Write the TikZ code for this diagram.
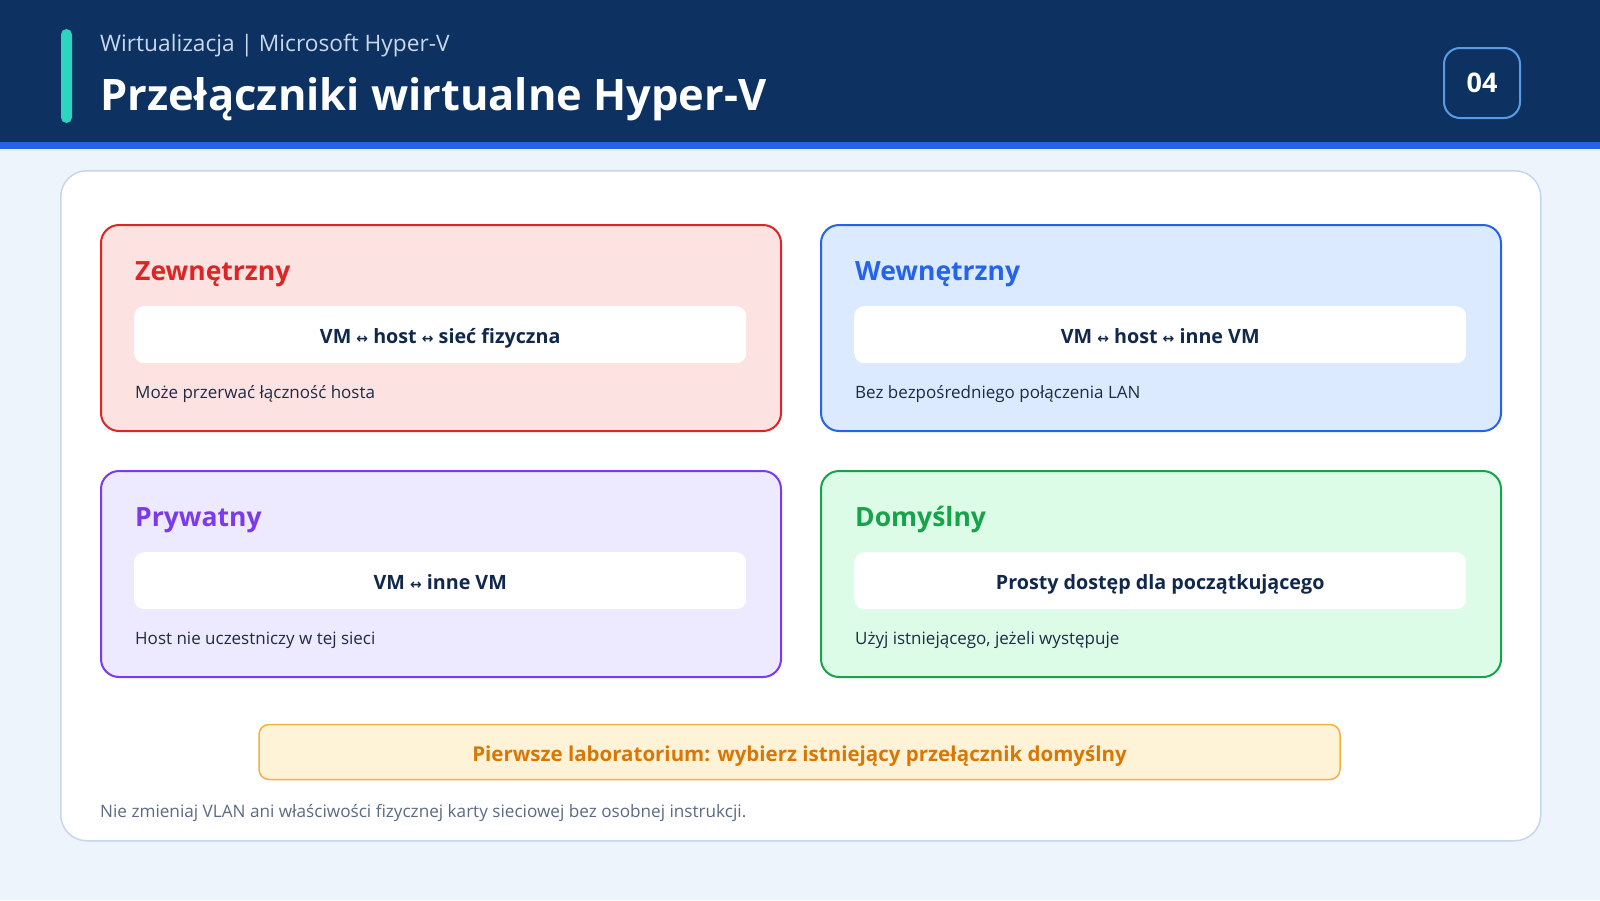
\documentclass[tikz,border=0pt]{standalone}
\usepackage{fontspec}
\setmainfont{Open Sans}
\newfontfamily\symfont{DejaVu Sans}
\newcommand{\lr}{{\symfont\fontsize{14}{16}\selectfont ↔}}
\definecolor{bgc}{HTML}{EEF4FC}
\definecolor{navy}{HTML}{0D3160}
\definecolor{stripe}{HTML}{2563EB}
\definecolor{teal}{HTML}{2DD4BF}
\definecolor{subt}{HTML}{C9D7EC}
\definecolor{badgeb}{HTML}{5B9BE6}
\definecolor{cardb}{HTML}{C6D6EC}
\definecolor{ink}{HTML}{10284A}
\definecolor{desc}{HTML}{1E2B45}
\definecolor{redb}{HTML}{DC2626}\definecolor{redf}{HTML}{FDE2E2}
\definecolor{blub}{HTML}{2563EB}\definecolor{bluf}{HTML}{DBEAFE}
\definecolor{purb}{HTML}{7C3AED}\definecolor{purf}{HTML}{EDE9FE}
\definecolor{grnb}{HTML}{16A34A}\definecolor{grnf}{HTML}{DCFCE7}
\definecolor{orgb}{HTML}{F5B041}\definecolor{orgf}{HTML}{FEF3D6}\definecolor{orgt}{HTML}{D97706}
\definecolor{foot}{HTML}{5B6B85}
\tikzset{
  cardbox/.style={draw=#1, line width=2pt, rounded corners=18pt},
  innerbox/.style={fill=white, rounded corners=10pt, draw=none},
  cardtitle/.style={anchor=base west, inner sep=0pt, text=#1, font=\fontsize{26.5}{30}\selectfont\bfseries},
  innertext/.style={anchor=center, inner sep=0pt, text=ink, font=\fontsize{19.7}{24}\selectfont\bfseries},
  desctext/.style={anchor=base west, inner sep=0pt, text=desc, font=\fontsize{17}{20}\selectfont},
}
\newcommand{\swcard}[8]{%
  % #1 name, #2 x, #3 y, #4 border, #5 fill, #6 title, #7 inner, #8 desc
  \node[cardbox=#4, fill=#5, minimum width=680pt, minimum height=206pt, anchor=north west, inner sep=0pt] (#1) at (#2,#3) {};
  \node[cardtitle=#4] (#1t) at (#2+35,#3+56) {#6};
  \node[innerbox, minimum width=612pt, minimum height=57pt, anchor=north west, inner sep=0pt] (#1i) at (#2+34,#3+82) {};
  \node[innertext, anchor=base] (#1x) at ([yshift=-9pt]#1i.center) {#7};
  \node[desctext] (#1d) at (#2+35,#3+174) {#8};
}
\begin{document}
\begin{tikzpicture}[x=1pt,y=-1pt]
\useasboundingbox (0,0) rectangle (1600,900);
\fill[bgc] (0,0) rectangle (1600,900);
\fill[navy] (0,0) rectangle (1600,142);
\fill[stripe] (0,142) rectangle (1600,149);
\fill[teal, rounded corners=5.5pt] (61,29) rectangle (72,123);
\node[anchor=base west, inner sep=0pt, text=subt, font=\fontsize{22.7}{26}\selectfont] (sub) at (100,51) {Wirtualizacja | Microsoft Hyper-V};
\node[anchor=base west, inner sep=0pt, text=white, font=\fontsize{43.4}{50}\selectfont\bfseries] (title) at (100,110) {Przełączniki wirtualne Hyper-V};
\node[draw=badgeb, line width=2pt, fill=navy, rounded corners=16pt, minimum width=76pt, minimum height=70pt, inner sep=0pt, text=white, font=\fontsize{27}{32}\selectfont\bfseries] (badge) at (1482,83) {04};
\node[draw=cardb, line width=1.5pt, fill=white, rounded corners=26pt, minimum width=1480pt, minimum height=670pt, anchor=north west, inner sep=0pt] (panel) at (60,170) {};
\swcard{ext}{100}{224}{redb}{redf}{Zewnętrzny}{VM \lr{} host \lr{} sieć fizyczna}{Może przerwać łączność hosta}
\swcard{int}{820}{224}{blub}{bluf}{Wewnętrzny}{VM \lr{} host \lr{} inne VM}{Bez bezpośredniego połączenia LAN}
\swcard{prv}{100}{470}{purb}{purf}{Prywatny}{VM \lr{} inne VM}{Host nie uczestniczy w tej sieci}
\swcard{def}{820}{470}{grnb}{grnf}{Domyślny}{Prosty dostęp dla początkującego}{Użyj istniejącego, jeżeli występuje}
\node[draw=orgb, line width=1.5pt, fill=orgf, rounded corners=10pt, minimum width=1081pt, minimum height=55pt, inner sep=0pt] (lab) at (799.5,752) {};
\node[anchor=base, inner sep=0pt, text=orgt, font=\fontsize{20.5}{24}\selectfont\bfseries] (labt) at ([yshift=-9pt]lab.center) {Pierwsze laboratorium: wybierz istniejący przełącznik domyślny};
\node[anchor=base west, inner sep=0pt, text=foot, font=\fontsize{17.15}{20}\selectfont] (note) at (100,817) {Nie zmieniaj VLAN ani właściwości fizycznej karty sieciowej bez osobnej instrukcji.};
\end{tikzpicture}
\end{document}
